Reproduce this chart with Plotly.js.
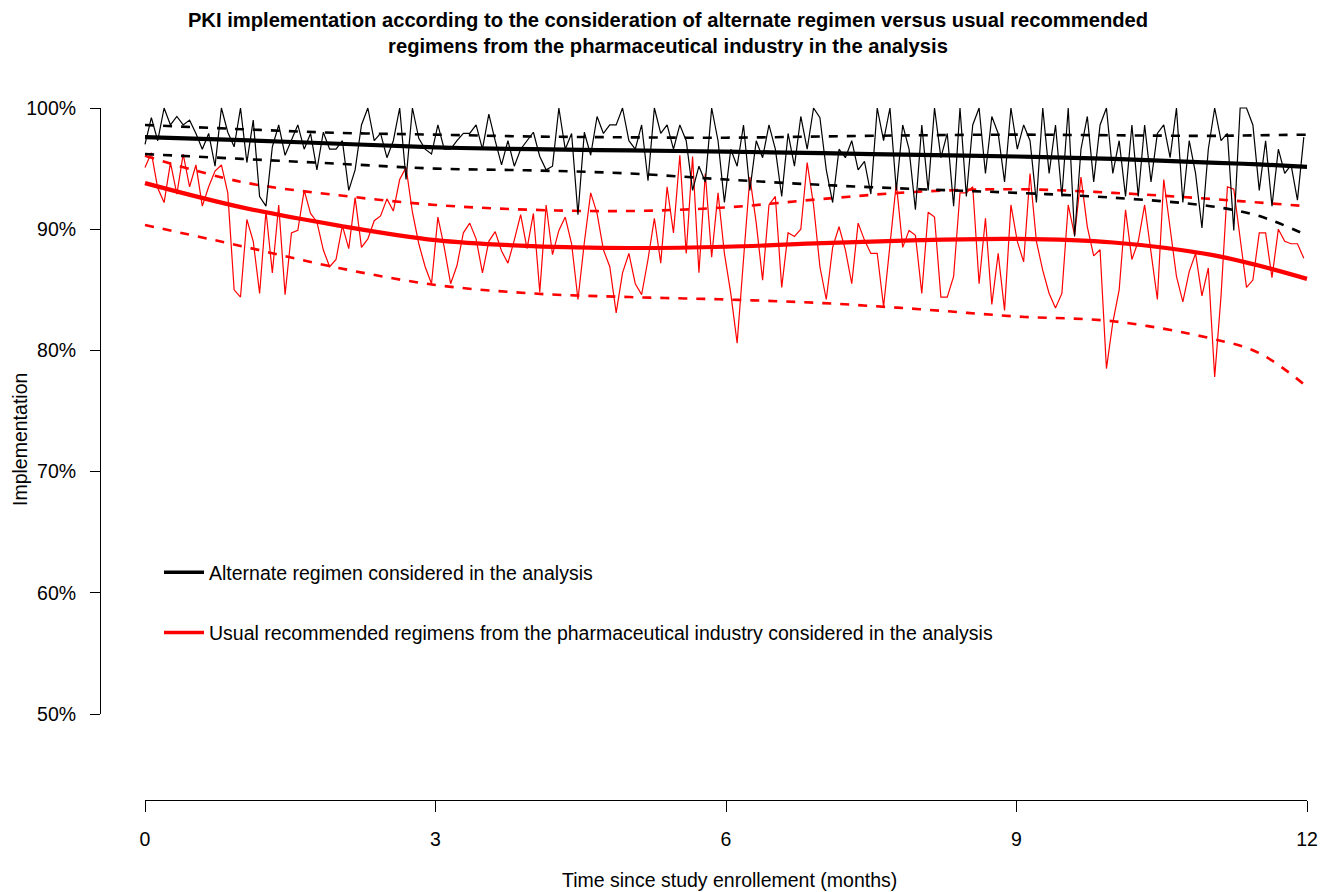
<!DOCTYPE html>
<html>
<head>
<meta charset="utf-8">
<script src="https://cdn.plot.ly/plotly-3.0.1.min.js"></script>
<style>html,body{margin:0;padding:0;background:#fff}#chart{width:1334px;height:892px}</style>
</head>
<body>
<div id="chart"></div>
<script>
// Observed daily implementation (every 2nd day), percent
const blackObs = [
  97.0, 99.2, 97.3, 100, 98.6, 99.3, 98.6, 99.0, 97.9, 96.6, 97.9, 95.2, 100, 98.0, 96.8,
  100, 95.5, 99.0, 92.7, 91.9, 96.8, 98.6, 96.1, 97.3, 98.6, 96.6, 97.9, 94.9, 98.0, 96.6,
  96.6, 97.3, 93.2, 94.9, 98.6, 100, 97.3, 97.9, 95.9, 97.3, 100, 94.1, 100, 97.5, 96.6,
  96.2, 98.6, 96.6, 96.6, 97.3, 97.9, 97.9, 98.6, 96.6, 99.5, 97.3, 95.3, 97.3, 95.2, 96.6,
  97.3, 98.0, 96.0, 94.9, 95.2, 100, 96.6, 97.9, 91.2, 98.0, 96.1, 99.3, 97.9, 98.6, 98.6,
  100, 97.3, 96.6, 98.6, 94.0, 100, 97.9, 98.6, 96.6, 98.6, 97.3, 93.2, 95.2, 93.9, 100,
  97.3, 92.2, 96.6, 95.2, 98.6, 93.2, 97.3, 95.9, 98.6, 96.6, 92.7, 97.9, 95.2, 99.3, 96.6,
  100, 99.2, 94.9, 92.2, 96.6, 95.9, 97.3, 94.9, 95.6, 92.9, 100, 97.3, 100, 93.2, 98.6,
  96.6, 91.6, 98.6, 93.2, 100, 95.9, 97.9, 91.9, 100, 92.7, 98.6, 100, 94.6, 99.3, 97.9,
  93.9, 100, 96.6, 98.6, 97.3, 92.2, 100, 94.6, 98.6, 92.7, 100, 89.4, 96.6, 99.3, 93.9,
  98.6, 100, 94.6, 97.3, 92.7, 98.6, 92.7, 98.6, 93.9, 97.9, 98.6, 95.9, 100, 92.2, 97.3,
  94.6, 90.1, 96.6, 100, 97.3, 97.9, 89.9, 100, 100, 98.6, 93.2, 97.3, 91.9, 96.6, 94.6, 95.3, 92.4, 97.6
];
const redObs = [
  95.1, 96.3, 93.4, 92.2, 95.5, 92.9, 96.2, 93.5, 95.3, 91.9, 93.5, 94.8, 95.3, 93.0, 85.0,
  84.4, 90.8, 89.0, 84.7, 91.5, 86.4, 92.0, 84.6, 89.7, 89.9, 93.2, 91.3, 90.6, 88.3, 86.9,
  87.5, 90.3, 88.4, 92.6, 88.5, 89.2, 90.7, 91.1, 92.5, 91.5, 94.1, 95.1, 91.4, 88.8, 86.9,
  85.5, 91.0, 88.5, 85.5, 87.0, 89.7, 90.5, 89.2, 86.4, 89.0, 89.8, 88.2, 87.2, 89.1, 91.2,
  88.4, 91.3, 84.8, 92.0, 87.9, 89.9, 91.0, 88.8, 84.2, 88.9, 93.0, 91.3, 88.3, 86.9, 83.1,
  86.4, 88.0, 85.5, 84.6, 87.5, 90.9, 87.2, 93.5, 89.7, 96.1, 88.0, 96.0, 86.4, 94.6, 87.7,
  93.0, 88.0, 84.7, 80.6, 87.5, 94.3, 90.5, 85.8, 92.0, 92.7, 85.2, 89.7, 89.4, 90.0, 95.5,
  92.0, 86.9, 84.2, 88.5, 90.2, 88.3, 85.5, 90.5, 89.1, 88.0, 88.0, 83.6, 88.5, 93.8, 88.5,
  89.9, 89.5, 84.7, 91.4, 91.0, 84.4, 84.4, 86.1, 93.0, 93.0, 93.5, 85.5, 90.9, 83.8, 88.0,
  83.3, 92.0, 89.0, 87.3, 94.6, 89.0, 86.6, 84.7, 83.5, 84.7, 92.0, 89.5, 94.3, 90.2, 87.8,
  88.3, 78.5, 82.3, 85.0, 91.6, 87.5, 89.0, 92.0, 88.0, 84.2, 94.1, 90.0, 86.1, 84.0, 86.5,
  88.0, 84.5, 86.8, 77.8, 84.5, 93.5, 93.3, 89.0, 85.2, 85.8, 89.7, 89.7, 86.0, 90.0, 89.0, 88.8, 88.8, 87.6
];
// observation day (every 2nd day) -> months
const obsDays = blackObs.map((_, i) => i * 2);
const obsMonths = obsDays.map(d => d / (365 / 12));

// Smoothed model estimates and 95% bands
const fitMonths = [0, 1, 2, 3, 4, 5, 6, 7, 8, 9, 10, 11, 11.5, 12];
const blackFit   = [97.6, 97.35, 97.05, 96.75, 96.6, 96.5, 96.4, 96.27, 96.13, 96.0, 95.8, 95.5, 95.35, 95.15];
const blackUpper = [98.6, 98.25, 97.95, 97.8, 97.65, 97.58, 97.55, 97.65, 97.75, 97.8, 97.75, 97.7, 97.75, 97.8];
const blackLower = [96.2, 95.8, 95.4, 95.0, 94.85, 94.6, 94.1, 93.65, 93.3, 93.0, 92.6, 91.9, 91.1, 89.5];
const redFit     = [93.8, 91.8, 90.3, 89.1, 88.6, 88.45, 88.55, 88.85, 89.1, 89.2, 88.9, 87.9, 87.0, 85.9];
const redUpper   = [96.05, 93.9, 92.8, 92.0, 91.6, 91.5, 91.8, 92.5, 93.1, 93.3, 93.0, 92.5, 92.2, 91.9];
const redLower   = [90.35, 88.6, 86.8, 85.4, 84.7, 84.4, 84.2, 83.9, 83.4, 82.8, 82.4, 81.0, 79.8, 77.0];

const xTicks = [0, 3, 6, 9, 12];
const yTicks = [50, 60, 70, 80, 90, 100];
const yTickText = ['50%', '60%', '70%', '80%', '90%', '100%'];
const seriesNames = [
  'Alternate regimen considered in the analysis',
  'Usual recommended regimens from the pharmaceutical industry considered in the analysis'
];
const RED = '#FF0000', BLACK = '#000000';
const FONT = 'Liberation Sans, Arial, Helvetica, sans-serif';
const FS = 19.5;

function ln(x, y, color, width, dash, shape) {
  return {x: x, y: y, type: 'scatter', mode: 'lines', showlegend: false, hoverinfo: 'skip',
    line: {color: color, width: width, dash: dash || 'solid', shape: shape || 'linear', smoothing: 1}};
}
const traces = [
  ln(obsMonths, redObs, RED, 1.2),
  ln(fitMonths, redUpper, RED, 2.6, '9px,9px', 'spline'),
  ln(fitMonths, redLower, RED, 2.6, '9px,9px', 'spline'),
  ln(fitMonths, redFit, RED, 4.2, 'solid', 'spline'),
  ln(obsMonths, blackObs, BLACK, 1.2),
  ln(fitMonths, blackUpper, BLACK, 2.6, '9px,9px', 'spline'),
  ln(fitMonths, blackLower, BLACK, 2.6, '9px,9px', 'spline'),
  ln(fitMonths, blackFit, BLACK, 4.2, 'solid', 'spline'),
  {x: [null], y: [null], type: 'scatter', mode: 'lines', name: seriesNames[0], legendgroup: 'a',
    line: {color: BLACK, width: 3.5}, hoverinfo: 'skip'},
  {x: [null], y: [null], type: 'scatter', mode: 'lines', name: seriesNames[1], legendgroup: 'b',
    line: {color: RED, width: 3.5}, hoverinfo: 'skip'},
  {x: [null], y: [null], xaxis: 'x2', yaxis: 'y2', type: 'scatter', mode: 'lines', showlegend: false, hoverinfo: 'skip'}
];

// pixel geometry (plot area: x 100..1334, y 81..800)
const L = 100, R = 0, T = 81, B = 92, W = 1334, H = 892;
const pw = W - L - R, ph = H - T - B;
const x0px = 145, x12px = 1307, y50px = 714, y100px = 108;
const pxPerMonth = (x12px - x0px) / 12, pxPerPct = (y50px - y100px) / 50;

const layout = {
  width: W, height: H,
  margin: {l: L, r: R, t: T, b: B, pad: 0},
  paper_bgcolor: '#fff', plot_bgcolor: 'rgba(0,0,0,0)',
  font: {family: FONT, size: FS, color: '#000'},
  showlegend: true,
  legend: {x: (159 - L) / pw, y: (H - B - 553) / ph, xanchor: 'left', yanchor: 'top',
    bgcolor: 'rgba(0,0,0,0)', font: {size: FS, family: FONT}, tracegroupgap: 32, itemwidth: 40},
  title: {text: 'PKI implementation according to the consideration of alternate regimen versus usual recommended<br>regimens from the pharmaceutical industry in the analysis',
    font: {family: FONT, size: 20.2, weight: 'bold', color: '#000'},
    x: 668 / W, xref: 'container', xanchor: 'center', y: 1 - 27 / H, yref: 'container', yanchor: 'middle'},
  xaxis: {visible: false, domain: [0, 1], range: [(L - x0px) / pxPerMonth, (W - R - x0px) / pxPerMonth], fixedrange: true},
  yaxis: {visible: false, domain: [0, 1], range: [100 - (H - B - y100px) / pxPerPct, 100 + (y100px - T) / pxPerPct], fixedrange: true},
  xaxis2: {anchor: 'free', position: 0,
    domain: [(x0px - L) / pw, (x12px - L) / pw], range: [0, 12], fixedrange: true,
    tickmode: 'array', tickvals: xTicks, ticktext: xTicks.map(String),
    showline: true, linecolor: '#000', linewidth: 1, ticks: 'outside', ticklen: 11, tickwidth: 1, tickcolor: '#000',
    showgrid: false, zeroline: false, ticklabelstandoff: 11, tickfont: {size: FS}},
  yaxis2: {anchor: 'free', position: 0,
    domain: [(H - B - y50px) / ph, (H - B - y100px) / ph], range: [50, 100], fixedrange: true,
    tickmode: 'array', tickvals: yTicks, ticktext: yTickText,
    showline: true, linecolor: '#000', linewidth: 1, ticks: 'outside', ticklen: 10, tickwidth: 1, tickcolor: '#000',
    showgrid: false, zeroline: false, ticklabelstandoff: 10, tickfont: {size: FS}},
  annotations: [
    {text: 'Implementation', xref: 'paper', yref: 'paper', x: (20 - L) / pw, y: (H - B - 440) / ph,
      textangle: -90, showarrow: false, xanchor: 'center', yanchor: 'middle', font: {size: FS}},
    {text: 'Time since study enrollement (months)', xref: 'paper', yref: 'paper', x: (729 - L) / pw, y: (H - B - 880) / ph,
      showarrow: false, xanchor: 'center', yanchor: 'middle', font: {size: FS}}
  ]
};

Plotly.newPlot('chart', traces, layout, {displayModeBar: false, staticPlot: true});
</script>
</body>
</html>
